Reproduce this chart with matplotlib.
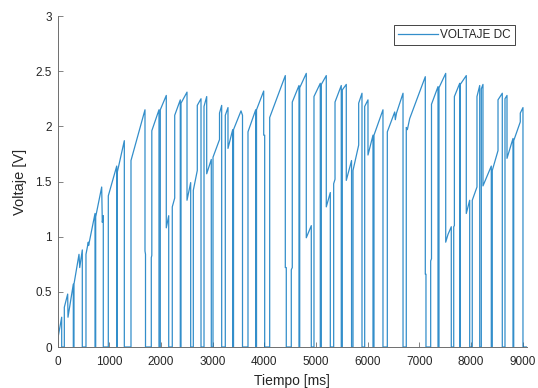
import matplotlib
matplotlib.use("Agg")
import matplotlib.pyplot as plt

# Vertices of the DC voltage trace (time in ms, voltage in V)
tiempo_ms = [
    0, 4, 81, 81, 132, 132, 197, 203, 306, 306, 319, 319, 416, 430, 480, 480,
    551, 551, 596, 602, 726, 726, 739, 739, 855, 867, 886, 886, 983, 983,
    1146, 1146, 1155, 1155, 1293, 1293, 1422, 1422, 1693, 1693, 1703, 1703,
    1815, 1815, 1825, 1825, 1964, 1964, 1989, 1989, 2105, 2105, 2152, 2152,
    2221, 2221, 2268, 2268, 2376, 2376, 2390, 2390, 2506, 2506, 2577, 2577,
    2628, 2628, 2705, 2705, 2777, 2777, 2835, 2835, 2887, 2887, 2976, 2976,
    3009, 3009, 3135, 3135, 3177, 3177, 3247, 3247, 3299, 3299, 3390, 3390,
    3406, 3406, 3551, 3580, 3580, 3686, 3686, 3835, 3835, 3851, 3851, 3990,
    3990, 4009, 4009, 4106, 4106, 4408, 4408, 4427, 4427, 4524, 4524, 4543,
    4543, 4673, 4673, 4687, 4687, 4814, 4814, 4911, 4911, 4963, 4963, 5085,
    5085, 5105, 5105, 5201, 5201, 5279, 5279, 5344, 5344, 5370, 5370, 5491,
    5491, 5511, 5511, 5588, 5588, 5690, 5690, 5718, 5718, 5828, 5828, 5892,
    5892, 5944, 5944, 6008, 6008, 6105, 6105, 6124, 6124, 6298, 6298, 6382,
    6382, 6525, 6537, 6560, 6686, 6686, 6749, 6749, 6770, 6815, 7117, 7117,
    7130, 7130, 7221, 7221, 7237, 7237, 7363, 7363, 7382, 7382, 7512, 7512,
    7556, 7620, 7620, 7667, 7667, 7680, 7680, 7783, 7783, 7794, 7794, 7910,
    7910, 7976, 7976, 8026, 8026, 8117, 8117, 8170, 8170, 8201, 8201, 8233,
    8233, 8394, 8394, 8413, 8413, 8524, 8524, 8607, 8607, 8659, 8659, 8698,
    8698, 8814, 8814, 8828, 8828, 8955, 8955, 9007, 9007, 9085,
]
voltaje_v = [
    0.00, 0.07, 0.27, 0.00, 0.00, 0.36, 0.48, 0.27, 0.57, 0.00, 0.00, 0.57, 0.84, 0.72, 0.88, 0.00,
    0.00, 0.84, 0.95, 0.92, 1.21, 0.00, 0.00, 1.18, 1.45, 1.13, 1.19, 0.00, 0.00, 1.37,
    1.64, 0.00, 0.00, 1.58, 1.87, 0.00, 0.00, 1.69, 2.15, 0.87, 0.84, 0.00,
    0.00, 0.81, 0.83, 1.96, 2.15, 0.00, 0.00, 2.15, 2.28, 1.08, 1.19, 0.00,
    0.00, 1.27, 1.35, 2.10, 2.24, 0.00, 0.00, 2.21, 2.31, 1.33, 1.49, 0.00,
    0.00, 1.42, 1.60, 2.19, 2.25, 0.00, 0.00, 2.18, 2.27, 1.57, 1.70, 0.00,
    0.00, 1.72, 1.88, 2.12, 2.19, 0.00, 0.00, 2.10, 2.17, 1.80, 1.97, 0.00,
    0.00, 1.97, 2.14, 2.10, 0.00, 0.00, 1.95, 2.15, 0.00, 0.00, 2.15, 2.32,
    1.92, 1.92, 0.00, 0.00, 2.08, 2.46, 0.72, 0.72, 0.00, 0.00, 0.70, 0.72,
    2.22, 2.37, 0.00, 0.00, 2.35, 2.48, 0.99, 1.10, 0.00, 0.00, 2.27, 2.39,
    0.00, 0.00, 2.38, 2.46, 1.27, 1.40, 0.00, 0.00, 1.48, 1.52, 2.22, 2.37,
    0.00, 0.00, 2.33, 2.38, 1.51, 1.69, 0.00, 0.00, 1.60, 1.83, 2.21, 2.30,
    0.00, 0.00, 2.18, 2.24, 1.74, 1.92, 0.00, 0.00, 1.92, 2.15, 0.00, 0.00,
    1.95, 2.13, 2.06, 2.12, 2.30, 0.00, 0.00, 1.99, 1.97, 2.07, 2.45, 0.66,
    0.66, 0.00, 0.00, 0.78, 0.80, 2.20, 2.36, 0.00, 0.00, 2.35, 2.48, 0.95,
    1.02, 1.09, 0.00, 0.00, 1.09, 1.10, 2.27, 2.39, 0.00, 0.00, 2.38, 2.46,
    1.21, 1.33, 0.00, 0.00, 1.33, 1.45, 2.27, 2.37, 0.00, 0.00, 2.34, 2.38,
    1.46, 1.64, 0.00, 0.00, 1.60, 1.78, 2.24, 2.30, 0.00, 0.00, 2.25, 2.28,
    1.71, 1.89, 0.00, 0.00, 1.87, 2.04, 2.12, 2.17, 0.00, 0.00,
]

x_ticks = [0, 1000, 2000, 3000, 4000, 5000, 6000, 7000, 8000, 9000]
y_ticks = [0, 0.5, 1, 1.5, 2, 2.5, 3]
y_tick_labels = ["0", "0.5", "1", "1.5", "2", "2.5", "3"]

plt.rcParams['font.family'] = ['Liberation Sans', 'DejaVu Sans']
text_col = '#262626'
axis_col = '#6e6e6e'

W, H = 538, 388
fig = plt.figure(figsize=(W / 100, H / 100), dpi=100)
ax = fig.add_axes([57.5 / W, (H - 347) / H, (527 - 57.5) / W, (347 - 16) / H])

ax.plot(tiempo_ms, voltaje_v, color='#0072BD', lw=0.9, alpha=0.8,
        label='VOLTAJE DC')

ax.set_xlim(0, 9085)
ax.set_ylim(0, 3)
ax.set_xticks(x_ticks)
ax.set_xticklabels([str(v) for v in x_ticks])
ax.set_yticks(y_ticks)
ax.set_yticklabels(y_tick_labels)

for s in ['top', 'right']:
    ax.spines[s].set_visible(False)
for s in ['bottom', 'left']:
    ax.spines[s].set_color(axis_col)
    ax.spines[s].set_linewidth(0.7)

ax.tick_params(direction='in', length=3.5, width=0.6, color=axis_col,
               labelcolor=text_col, labelsize=8.5)
ax.tick_params(axis='x', pad=6.5)
ax.tick_params(axis='y', pad=4)
ax.set_xlabel('Tiempo [ms]', fontsize=10, color=text_col, labelpad=4.5)
ax.set_ylabel('Voltaje [V]', fontsize=10.5, color=text_col, labelpad=6)

leg = ax.legend(loc='upper right', bbox_to_anchor=(515 / W, 1 - 25 / H),
                bbox_transform=fig.transFigure, fontsize=8.5, frameon=True,
                fancybox=False, framealpha=1, edgecolor=text_col,
                handlelength=3.4, handletextpad=0.2, borderpad=0.35,
                borderaxespad=0)
leg.get_frame().set_linewidth(0.6)
for t in leg.get_texts():
    t.set_color(text_col)

fig.savefig('out.png', dpi=100)
